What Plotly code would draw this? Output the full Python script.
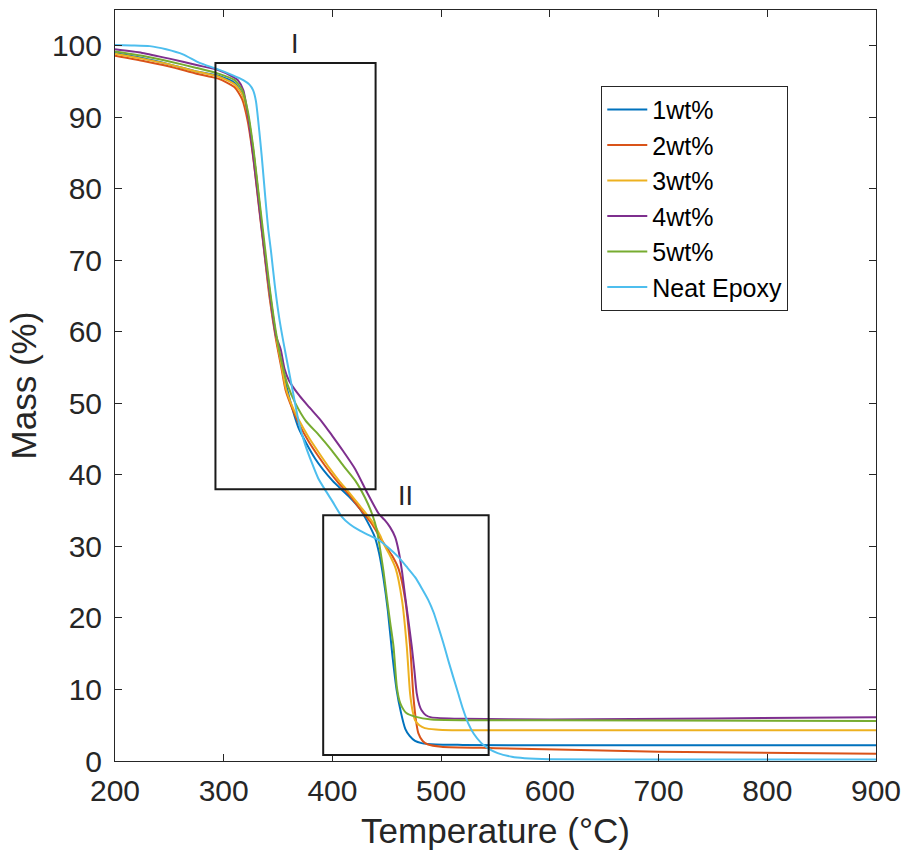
import plotly.graph_objects as go

names = ["1wt%", "2wt%", "3wt%", "4wt%", "5wt%", "Neat Epoxy"]
colors = ["#0072BD", "#D95319", "#EDB120", "#7E2F8E", "#77AC30", "#4DBEEE"]

T_1wt = [200, 225, 250, 275, 295, 310, 317, 322, 327, 332, 337, 342, 348, 353, 360, 369, 384, 400, 415, 425, 432,
         439, 443, 447, 451, 455, 459, 463, 467, 471, 476, 482, 495, 520, 600, 700, 800, 900]
M_1wt = [99.0, 98.3, 97.4, 96.4, 95.8, 94.8, 93.3, 90.5, 85.5, 79, 72, 66, 59.5, 55.5, 51, 46.5, 42.3, 39.2, 37.0, 35.3, 33.5,
         31.3, 29.0, 25.5, 21, 15, 10, 6.8, 4.5, 3.5, 2.8, 2.5, 2.3, 2.25, 2.2, 2.2, 2.2, 2.2]

T_2wt = [200, 225, 250, 275, 295, 310, 317, 322, 327, 332, 337, 342, 348, 353, 357, 363, 369, 378, 388, 398, 406, 415,
         424, 436, 444, 450, 455, 461, 467, 471.5, 474.5, 477, 479, 483, 488, 500, 550, 700, 900]
M_2wt = [98.6, 97.9, 97.1, 96.1, 95.4, 94.2, 92.5, 89.5, 84.5, 78, 71.5, 65, 59, 55, 51.8, 49.3, 47.2, 44.7, 42.4, 40.3, 38.8, 37.3,
         35.5, 33.2, 31.2, 29.8, 28.7, 26.8, 22.5, 16, 9, 5.5, 3.9, 2.8, 2.3, 2.0, 1.8, 1.3, 1.0]

T_3wt = [200, 225, 250, 275, 295, 310, 317, 322, 327, 332, 337, 342, 348, 353, 357, 363, 369, 378, 388, 398, 406, 415,
         424, 436, 444, 447, 452, 458, 464, 468.4, 471.4, 474, 476, 480, 485, 495, 510, 600, 900]
M_3wt = [98.9, 98.2, 97.4, 96.4, 95.7, 94.6, 93.2, 90.5, 85.5, 79, 72, 65.5, 59.5, 55.5, 52.2, 49.6, 47.7, 45.3, 43.0, 40.8, 39.2, 37.6,
         35.9, 33.6, 31.5, 30.4, 29.0, 27.0, 22.5, 16, 9.5, 6.8, 5.7, 5.0, 4.6, 4.4, 4.3, 4.3, 4.3]

T_4wt = [200, 225, 250, 275, 295, 308, 313, 318, 323, 328, 333, 338, 343, 348, 352.5, 356, 360, 370, 378.4, 390, 399.7,
         410, 421, 432, 442.5, 448, 453, 457.7, 461, 464, 467, 470, 473, 475.5, 477.5, 480, 482, 486, 491, 520, 600, 750, 900]
M_4wt = [99.5, 99.0, 98.2, 97.3, 96.6, 95.7, 95.2, 93.8, 89.5, 83.5, 77, 70.5, 64.5, 59.5, 57.5, 54.8, 53.2, 51.0, 49.5, 47.5, 45.5,
         43.3, 40.8, 37.5, 34.6, 33.7, 32.7, 31.3, 29.3, 26.5, 22.9, 19.5, 16.0, 12.5, 9.5, 7.8, 7.1, 6.4, 6.1, 5.9, 5.8, 5.95, 6.1]

T_5wt = [200, 225, 250, 275, 295, 310, 317, 322, 327, 332, 337, 342, 348, 353, 358.5, 366, 375.3, 388, 399.5, 410, 421,
         430, 436.3, 440.9, 444, 447, 450, 453, 456.2, 459.2, 461.5, 463.8, 468, 476, 491, 600, 900]
M_5wt = [99.2, 98.6, 97.8, 96.9, 96.1, 95.2, 93.8, 91, 86, 79.5, 73, 66.5, 60, 56, 52.7, 50.0, 47.6, 45.5, 43.4, 41.3, 39.2,
         36.8, 34.6, 32.3, 29.5, 26.5, 22.9, 19.5, 16, 10.4, 8.5, 7.6, 6.7, 6.2, 5.8, 5.7, 5.6]

T_neat = [200, 215, 232, 247, 262.5, 277.8, 293, 308, 318, 323.5, 327, 329.6, 332.7, 335, 337, 339, 341, 343.4, 347, 351,
          355, 360, 365, 369.3, 375, 381.3, 387, 393.7, 400, 408.9, 416, 424.1, 433, 442.5, 451, 460.8, 468, 476, 482,
          488.2, 493, 497.3, 502, 506.5, 511, 515.6, 520, 524.8, 530, 537, 544, 552, 565, 576.7, 600, 700, 900]
M_neat = [100.1, 100.05, 99.95, 99.5, 98.8, 97.6, 96.8, 95.9, 95.2, 94.6, 93.8, 92.3, 88.1, 84.5, 81, 77.5, 74.3, 71.4, 66.5,
          62, 58.5, 54.5, 50.5, 47.2, 44.2, 41.6, 39.5, 37.8, 36.3, 34.1, 33.1, 32.3, 31.6, 30.9, 29.9, 28.5, 27.2, 25.7,
          24.2, 22.5, 20.8, 18.8, 16.5, 14.1, 11.8, 9.5, 7.3, 5.3, 3.8, 2.5, 1.7, 1.1, 0.6, 0.4, 0.25, 0.2, 0.2]

series_T = [T_1wt, T_2wt, T_3wt, T_4wt, T_5wt, T_neat]
series_M = [M_1wt, M_2wt, M_3wt, M_4wt, M_5wt, M_neat]

# Regions (stage boxes): [x0, x1, y0, y1]
box_I = [292.4, 439.7, 38.0, 97.6]
box_II = [391.5, 543.7, 0.85, 34.35]
label_I = (365.6, 100.3, "I")
label_II = (467, 37.0, "II")

FONT = "Liberation Sans, Arial, Helvetica, sans-serif"
INK = "#262626"

fig = go.Figure()
for name, color, T, M in zip(names, colors, series_T, series_M):
    fig.add_trace(go.Scatter(x=T, y=M, mode="lines", name=name,
                             line=dict(color=color, width=2, shape="spline", smoothing=0.6)))

for b in (box_I, box_II):
    fig.add_shape(type="rect", xref="x", yref="y", x0=b[0], x1=b[1], y0=b[2], y1=b[3],
                  line=dict(color="#1a1a1a", width=2), layer="above")

for (lx, ly, txt) in (label_I, label_II):
    fig.add_annotation(x=lx, y=ly, text=txt, showarrow=False, xref="x", yref="y",
                       font=dict(family=FONT, size=27, color=INK))

fig.update_layout(
    width=910, height=858,
    margin=dict(l=115, r=30, t=9, b=97),
    paper_bgcolor="white", plot_bgcolor="white",
    font=dict(family=FONT, color=INK),
    showlegend=True,
    legend=dict(x=0.639, y=0.899, xanchor="left", yanchor="top",
                bordercolor=INK, borderwidth=1, bgcolor="white",
                font=dict(family=FONT, size=25, color="#000000"),
                itemwidth=40, tracegroupgap=0),
)

fig.update_xaxes(range=[200, 900], tickvals=[200, 300, 400, 500, 600, 700, 800, 900],
                 ticks="inside", ticklen=7, tickcolor=INK, tickwidth=1,
                 showline=True, linecolor=INK, linewidth=1, mirror="ticks",
                 showgrid=False, zeroline=False,
                 tickfont=dict(family=FONT, size=30, color=INK),
                 ticklabelstandoff=3,
                 title=dict(text="Temperature (°C)", font=dict(family=FONT, size=35, color=INK), standoff=12))
fig.update_yaxes(range=[0, 105], tickvals=list(range(0, 101, 10)),
                 ticks="inside", ticklen=7, tickcolor=INK, tickwidth=1,
                 showline=True, linecolor=INK, linewidth=1, mirror="ticks",
                 showgrid=False, zeroline=False,
                 tickfont=dict(family=FONT, size=30, color=INK),
                 ticklabelstandoff=6,
                 title=dict(text="Mass (%)", font=dict(family=FONT, size=35, color=INK), standoff=4))

fig.write_html("out.html")
